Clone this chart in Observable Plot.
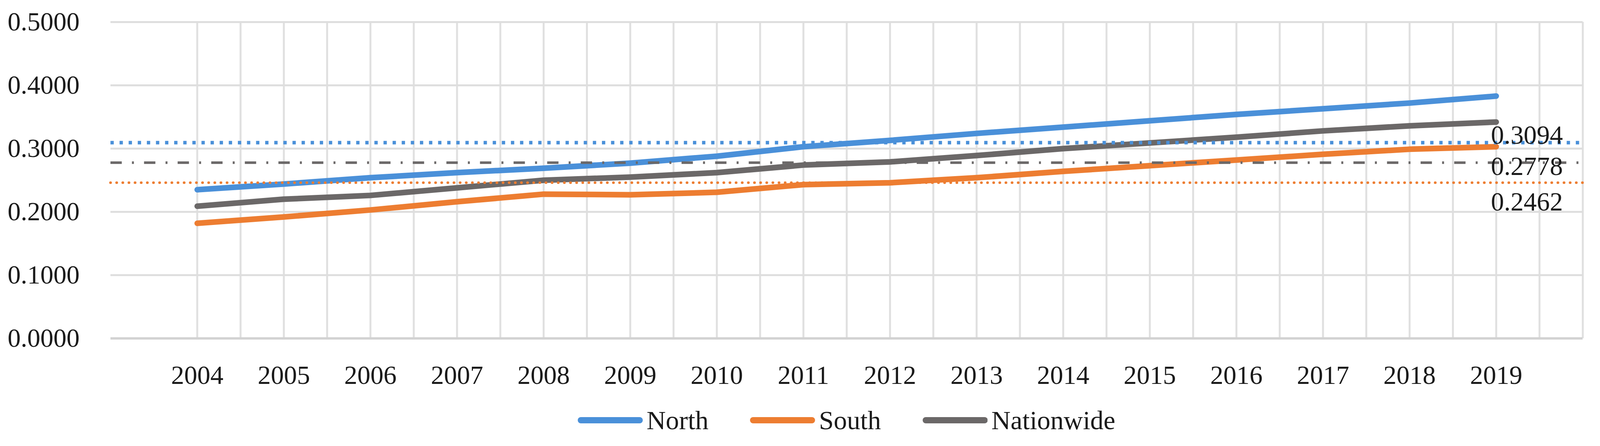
<!DOCTYPE html>
<html>
<head>
<meta charset="utf-8">
<script src="https://cdn.jsdelivr.net/npm/d3@7"></script>
<script src="https://cdn.jsdelivr.net/npm/@observablehq/plot@0.6"></script>
<style>
  html, body { margin: 0; padding: 0; background: #ffffff; overflow: hidden; }
  #chart svg { display: block; }
  #legend {
    display: flex; justify-content: center; align-items: center;
    height: 132px; box-sizing: border-box;
    font-family: "Liberation Serif", "DejaVu Serif", serif; font-size: 68px; color: #1a1a1a;
  }
  .item { display: flex; align-items: center; }
</style>
</head>
<body>
<div id="chart"></div>
<div id="legend"></div>
<script>
// ---- data ----
const years = [2004, 2005, 2006, 2007, 2008, 2009, 2010, 2011, 2012, 2013, 2014, 2015, 2016, 2017, 2018, 2019];
const north = [0.235, 0.244, 0.254, 0.262, 0.269, 0.277, 0.288, 0.303, 0.313, 0.324, 0.334, 0.344, 0.354, 0.363, 0.372, 0.383];
const south = [0.182, 0.192, 0.203, 0.216, 0.228, 0.227, 0.231, 0.243, 0.246, 0.254, 0.264, 0.273, 0.282, 0.291, 0.299, 0.303];
const nationwide = [0.209, 0.220, 0.226, 0.238, 0.250, 0.255, 0.262, 0.274, 0.279, 0.289, 0.300, 0.309, 0.318, 0.328, 0.336, 0.342];
const seriesNames = ["North", "South", "Nationwide"];
const seriesColors = ["#4a90d9", "#ed7d31", "#6b6868"];
const averageValues = [0.3094, 0.2462, 0.2778]; // North, South, Nationwide averages
const yTicks = [0, 0.1, 0.2, 0.3, 0.4, 0.5];

// ---- layout: designed for 4230 px wide, scaled to the actual viewport width ----
const W = document.documentElement.clientWidth || window.innerWidth || 4230;
const k = W / 4230;

const seriesValues = [north, south, nationwide];
const rows = [];
seriesNames.forEach((name, i) => {
  years.forEach((yr, j) => rows.push({series: name, year: yr, value: seriesValues[i][j]}));
});
const averages = seriesNames.map((name, i) => ({series: name, value: averageValues[i]}));

// half-year vertical gridlines (Excel style), plus right frame edge
const vGrid = d3.range(years[0], years[years.length - 1] + 1, 0.5).concat([years[years.length - 1] + 1]);

const avgStyles = {
  North: {strokeWidth: 9, strokeDasharray: "8.5,14.8", cap: "butt", labelDy: -19},
  South: {strokeWidth: 6.5, strokeDasharray: "0.5,15.2", cap: "round", labelDy: 50},
  Nationwide: {strokeWidth: 6.5, strokeDasharray: "29,26,5,26", cap: "butt", labelDy: 10}
};
const colorOf = Object.fromEntries(seriesNames.map((n, i) => [n, seriesColors[i]]));

const marks = [
  Plot.ruleX(vGrid, {stroke: "#e0e0e0", strokeWidth: 5}),
  Plot.ruleY(yTicks.filter(d => d > 0), {stroke: "#dedede", strokeWidth: 5}),
  Plot.ruleY([0], {stroke: "#d2d2d2", strokeWidth: 6}),
  Plot.line(rows, {x: "year", y: "value", z: "series", stroke: "series",
                   strokeWidth: 14.5, strokeLinecap: "round", strokeLinejoin: "round"})
];
averages.forEach(a => {
  const s = avgStyles[a.series];
  marks.push(Plot.ruleY([a], {y: "value", stroke: colorOf[a.series],
    strokeWidth: s.strokeWidth, strokeDasharray: s.strokeDasharray, strokeLinecap: s.cap}));
});
averages.forEach(a => {
  const s = avgStyles[a.series];
  marks.push(Plot.text([a], {x: () => years[years.length - 1], y: "value",
    text: d => d.value.toFixed(4), textAnchor: "start", dx: -14 * k, dy: s.labelDy,
    fontSize: 67, fill: "#1a1a1a"}));
});

const chart = Plot.plot({
  width: W,
  height: 1010,
  marginLeft: 292 * k,
  marginRight: 46 * k,
  marginTop: 56,
  marginBottom: 144,
  style: {fontFamily: "'Liberation Serif', 'DejaVu Serif', serif", fontSize: "67px", color: "#1a1a1a", background: "#ffffff"},
  x: {domain: [years[0] - 1, years[years.length - 1] + 1], ticks: years, tickFormat: d => String(d),
      tickSize: 0, tickPadding: 69, label: null},
  y: {domain: [0, 0.5], ticks: yTicks, tickFormat: d3.format(".4f"), tickSize: 0, tickPadding: 82 * k, label: null},
  color: {domain: seriesNames, range: seriesColors},
  marks
});
document.getElementById("chart").appendChild(chart);

// ---- legend below the SVG ----
const legend = document.getElementById("legend");
legend.style.width = W + "px";
legend.style.paddingLeft = (292 * k) + "px";
legend.style.paddingRight = (46 * k) + "px";
const swW = 172 * k;
seriesNames.forEach((name, i) => {
  const item = document.createElement("div");
  item.className = "item";
  item.style.margin = `0 ${55 * k}px`;
  item.innerHTML = `<svg width="${swW}" height="24"><line x1="8" y1="12" x2="${swW - 8}" y2="12" stroke="${seriesColors[i]}" stroke-width="16" stroke-linecap="round"/></svg><span style="margin-left:${10 * k}px">${name}</span>`;
  legend.appendChild(item);
});
</script>
</body>
</html>
